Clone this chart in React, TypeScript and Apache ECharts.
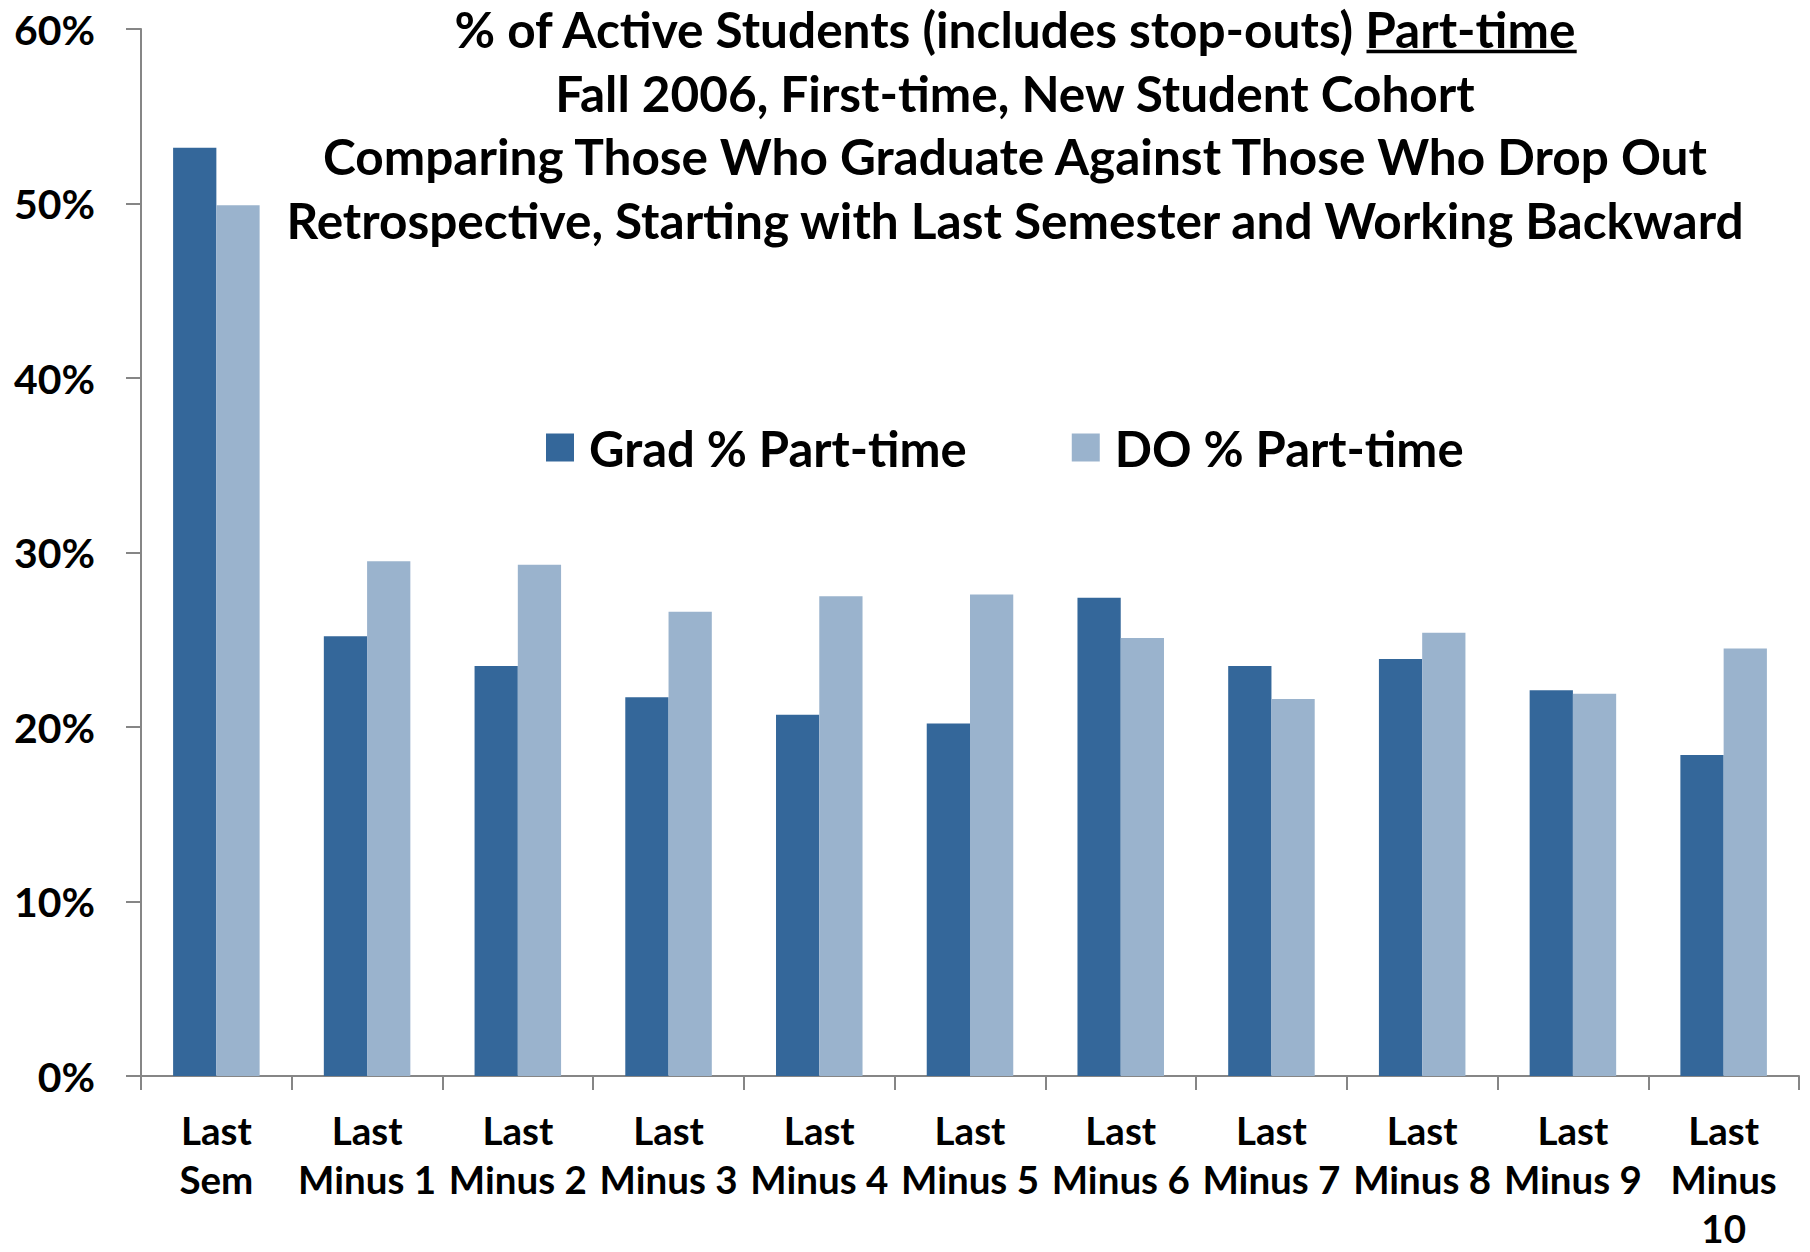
import React, { useEffect, useRef } from "react";
import * as echarts from "echarts";

const categories = [
  "Last\nSem",
  "Last\nMinus 1",
  "Last\nMinus 2",
  "Last\nMinus 3",
  "Last\nMinus 4",
  "Last\nMinus 5",
  "Last\nMinus 6",
  "Last\nMinus 7",
  "Last\nMinus 8",
  "Last\nMinus 9",
  "Last\nMinus\n10",
];
const gradValues = [53.2, 25.2, 23.5, 21.7, 20.7, 20.2, 27.4, 23.5, 23.9, 22.1, 18.4];
const doValues = [49.9, 29.5, 29.3, 26.6, 27.5, 27.6, 25.1, 21.6, 25.4, 21.9, 24.5];
const seriesNames = ["Grad % Part-time", "DO % Part-time"];
const titleLine1Main = "% of Active Students (includes stop-outs) ";
const titleLine1Under = "Part-time";
const titleLines = [
  "Fall 2006, First-time, New Student Cohort",
  "Comparing Those Who Graduate Against Those Who Drop Out",
  "Retrospective, Starting with Last Semester and Working Backward",
];
const yMin = 0;
const yMax = 60;
const yInterval = 10;

const FONT = "Lato, 'Open Sans', sans-serif";

function measure(text: string, size: number): number {
  const c = document.createElement("canvas");
  const ctx = c.getContext("2d")!;
  ctx.font = `bold ${size}px ${FONT}`;
  return ctx.measureText(text).width;
}
function fit(text: string, target: number): number {
  const w = measure(text, 100);
  return (100 * target) / w;
}

export default function App() {
  const ref = useRef<HTMLDivElement>(null);
  useEffect(() => {
    document.body.style.margin = "0";
    const el = ref.current!;
    const chart = echarts.init(el, null, { renderer: "svg" });
    const titleSize = Math.min(50, fit(titleLines[2], 1460));
    const legendSize = Math.min(49, fit(seriesNames[0], 388));
    const xSize = Math.min(42, fit("Minus 1", 138));
    const ySize = Math.min(46, fit("60%", 81));
    const cx = 1015;
    const lineYs = [29, 93, 156, 220];
    const full1 = titleLine1Main + titleLine1Under;
    const w1 = measure(full1, titleSize);
    const wu = measure(titleLine1Under, titleSize);
    const ulRight = cx + w1 / 2;
    const ulLeft = ulRight - wu;

    const graphics: any[] = [
      {
        type: "text",
        x: cx,
        y: lineYs[0],
        style: {
          text: full1,
          font: `bold ${titleSize}px ${FONT}`,
          fill: "#000",
          textAlign: "center",
          textVerticalAlign: "middle",
        },
      },
      {
        type: "rect",
        shape: { x: ulLeft, y: lineYs[0] + titleSize * 0.42, width: wu, height: 3.5 },
        style: { fill: "#000" },
      },
    ];
    titleLines.forEach((t, i) => {
      graphics.push({
        type: "text",
        x: cx,
        y: lineYs[i + 1],
        style: {
          text: t,
          font: `bold ${titleSize}px ${FONT}`,
          fill: "#000",
          textAlign: "center",
          textVerticalAlign: "middle",
        },
      });
    });

    chart.setOption({
      animation: false,
      grid: {
        left: 141,
        top: 29,
        right: 11,
        bottom: 176,
        containLabel: false,
        outerBoundsMode: "none",
      },
      legend: {
        data: seriesNames,
        left: 541,
        top: 418,
        itemWidth: 28,
        itemHeight: 28,
        itemGap: 105,
        icon: "rect",
        textStyle: {
          fontFamily: FONT,
          fontWeight: "bold",
          fontSize: legendSize,
          color: "#000",
          padding: [0, 0, 0, 10],
        },
      },
      xAxis: {
        type: "category",
        data: categories,
        axisLine: { lineStyle: { color: "#868686", width: 2 } },
        axisTick: { show: true, alignWithLabel: false, length: 14, lineStyle: { color: "#868686", width: 2 } },
        axisLabel: {
          interval: 0,
          margin: 29,
          fontFamily: FONT,
          fontWeight: "bold",
          fontSize: xSize,
          lineHeight: 49,
          color: "#000",
        },
      },
      yAxis: {
        type: "value",
        min: yMin,
        max: yMax,
        interval: yInterval,
        axisLine: { show: true, lineStyle: { color: "#868686", width: 2 } },
        axisTick: { show: true, inside: false, length: 15, lineStyle: { color: "#868686", width: 2 } },
        splitLine: { show: false },
        axisLabel: {
          formatter: "{value}%",
          margin: 46,
          fontFamily: FONT,
          fontWeight: "bold",
          fontSize: ySize,
          color: "#000",
        },
      },
      series: [
        {
          name: seriesNames[0],
          type: "bar",
          data: gradValues,
          barWidth: "28.7%",
          barGap: "0%",
          itemStyle: { color: "#34679A" },
        },
        {
          name: seriesNames[1],
          type: "bar",
          data: doValues,
          barWidth: "28.7%",
          barGap: "0%",
          itemStyle: { color: "#9AB3CD" },
        },
      ],
      graphic: graphics,
    });
    return () => chart.dispose();
  }, []);
  return <div ref={ref} style={{ width: 1810, height: 1252 }} />;
}
